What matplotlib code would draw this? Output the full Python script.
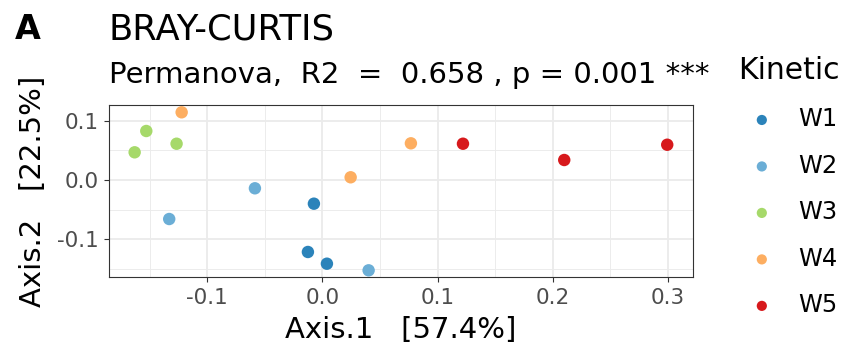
import matplotlib
matplotlib.use('Agg')
from matplotlib import pyplot as plt
from matplotlib.ticker import MultipleLocator

# PCoA coordinates (Bray-Curtis) per sampling week
groups = ['W1', 'W2', 'W3', 'W4', 'W5']
colors = ['#2B83BA', '#6BAED6', '#A6D96A', '#FDAE61', '#D7191C']
axis1 = {
    'W1': [-0.0074, -0.0126, 0.0039],
    'W2': [-0.0586, -0.1330, 0.0401],
    'W3': [-0.1529, -0.1266, -0.1630],
    'W4': [-0.1222, 0.0768, 0.0245],
    'W5': [0.1220, 0.2099, 0.2993],
}
axis2 = {
    'W1': [-0.0400, -0.1216, -0.1414],
    'W2': [-0.0140, -0.0659, -0.1526],
    'W3': [0.0828, 0.0613, 0.0468],
    'W4': [0.1144, 0.0620, 0.0046],
    'W5': [0.0613, 0.0338, 0.0596],
}

plt.rcParams['font.family'] = 'DejaVu Sans'

fig = plt.figure(figsize=(8.44, 3.49), dpi=100)
ax = fig.add_axes([0.1291, 0.2054, 0.6923, 0.4937])

handles = []
for g, c in zip(groups, colors):
    h = ax.scatter(axis1[g], axis2[g], s=80, color=c, edgecolors='none', zorder=3, label=g)
    handles.append(h)

ax.set_xlim(-0.1853, 0.3219)
ax.set_ylim(-0.1644, 0.1267)
ax.xaxis.set_minor_locator(MultipleLocator(0.05))
ax.yaxis.set_minor_locator(MultipleLocator(0.05))
ax.set_xticks([-0.1, 0.0, 0.1, 0.2, 0.3])
ax.set_xticklabels(['-0.1', '0.0', '0.1', '0.2', '0.3'])
ax.set_yticks([-0.1, 0.0, 0.1])
ax.set_yticklabels(['-0.1', '0.0', '0.1'])

ax.grid(which='major', color='#EBEBEB', linewidth=1.3, zorder=0)
ax.grid(which='minor', color='#EBEBEB', linewidth=0.65, zorder=0)
ax.set_axisbelow(True)
for sp in ax.spines.values():
    sp.set_color('#333333')
    sp.set_linewidth(0.8)
ax.tick_params(which='major', length=3.5, width=0.8, color='#333333',
               labelsize=15.5, labelcolor='#4D4D4D', pad=4)
ax.tick_params(which='minor', length=0)

ax.set_xlabel('Axis.1   [57.4%]', fontsize=21, labelpad=6)
ax.set_ylabel('Axis.2   [22.5%]', fontsize=21, labelpad=7)

fig.text(0.018, 0.888, 'A', fontsize=24, fontweight='bold', ha='left', va='baseline')
fig.text(0.128, 0.888, 'BRAY-CURTIS', fontsize=25.4, ha='left', va='baseline')
fig.text(0.129, 0.762, 'Permanova,  R2  =  0.658 , p = 0.001 ***', fontsize=21,
         ha='left', va='baseline')

leg = ax.legend(handles=handles, title='Kinetic', loc='upper left',
                bbox_to_anchor=(0.874, 0.84), bbox_transform=fig.transFigure,
                frameon=False, fontsize=17.4, title_fontsize=21.5,
                markerscale=0.82, handletextpad=0.5, labelspacing=0.93,
                borderaxespad=0, borderpad=0)
leg._legend_box.align = 'left'

fig.savefig('out.png', dpi=100)
